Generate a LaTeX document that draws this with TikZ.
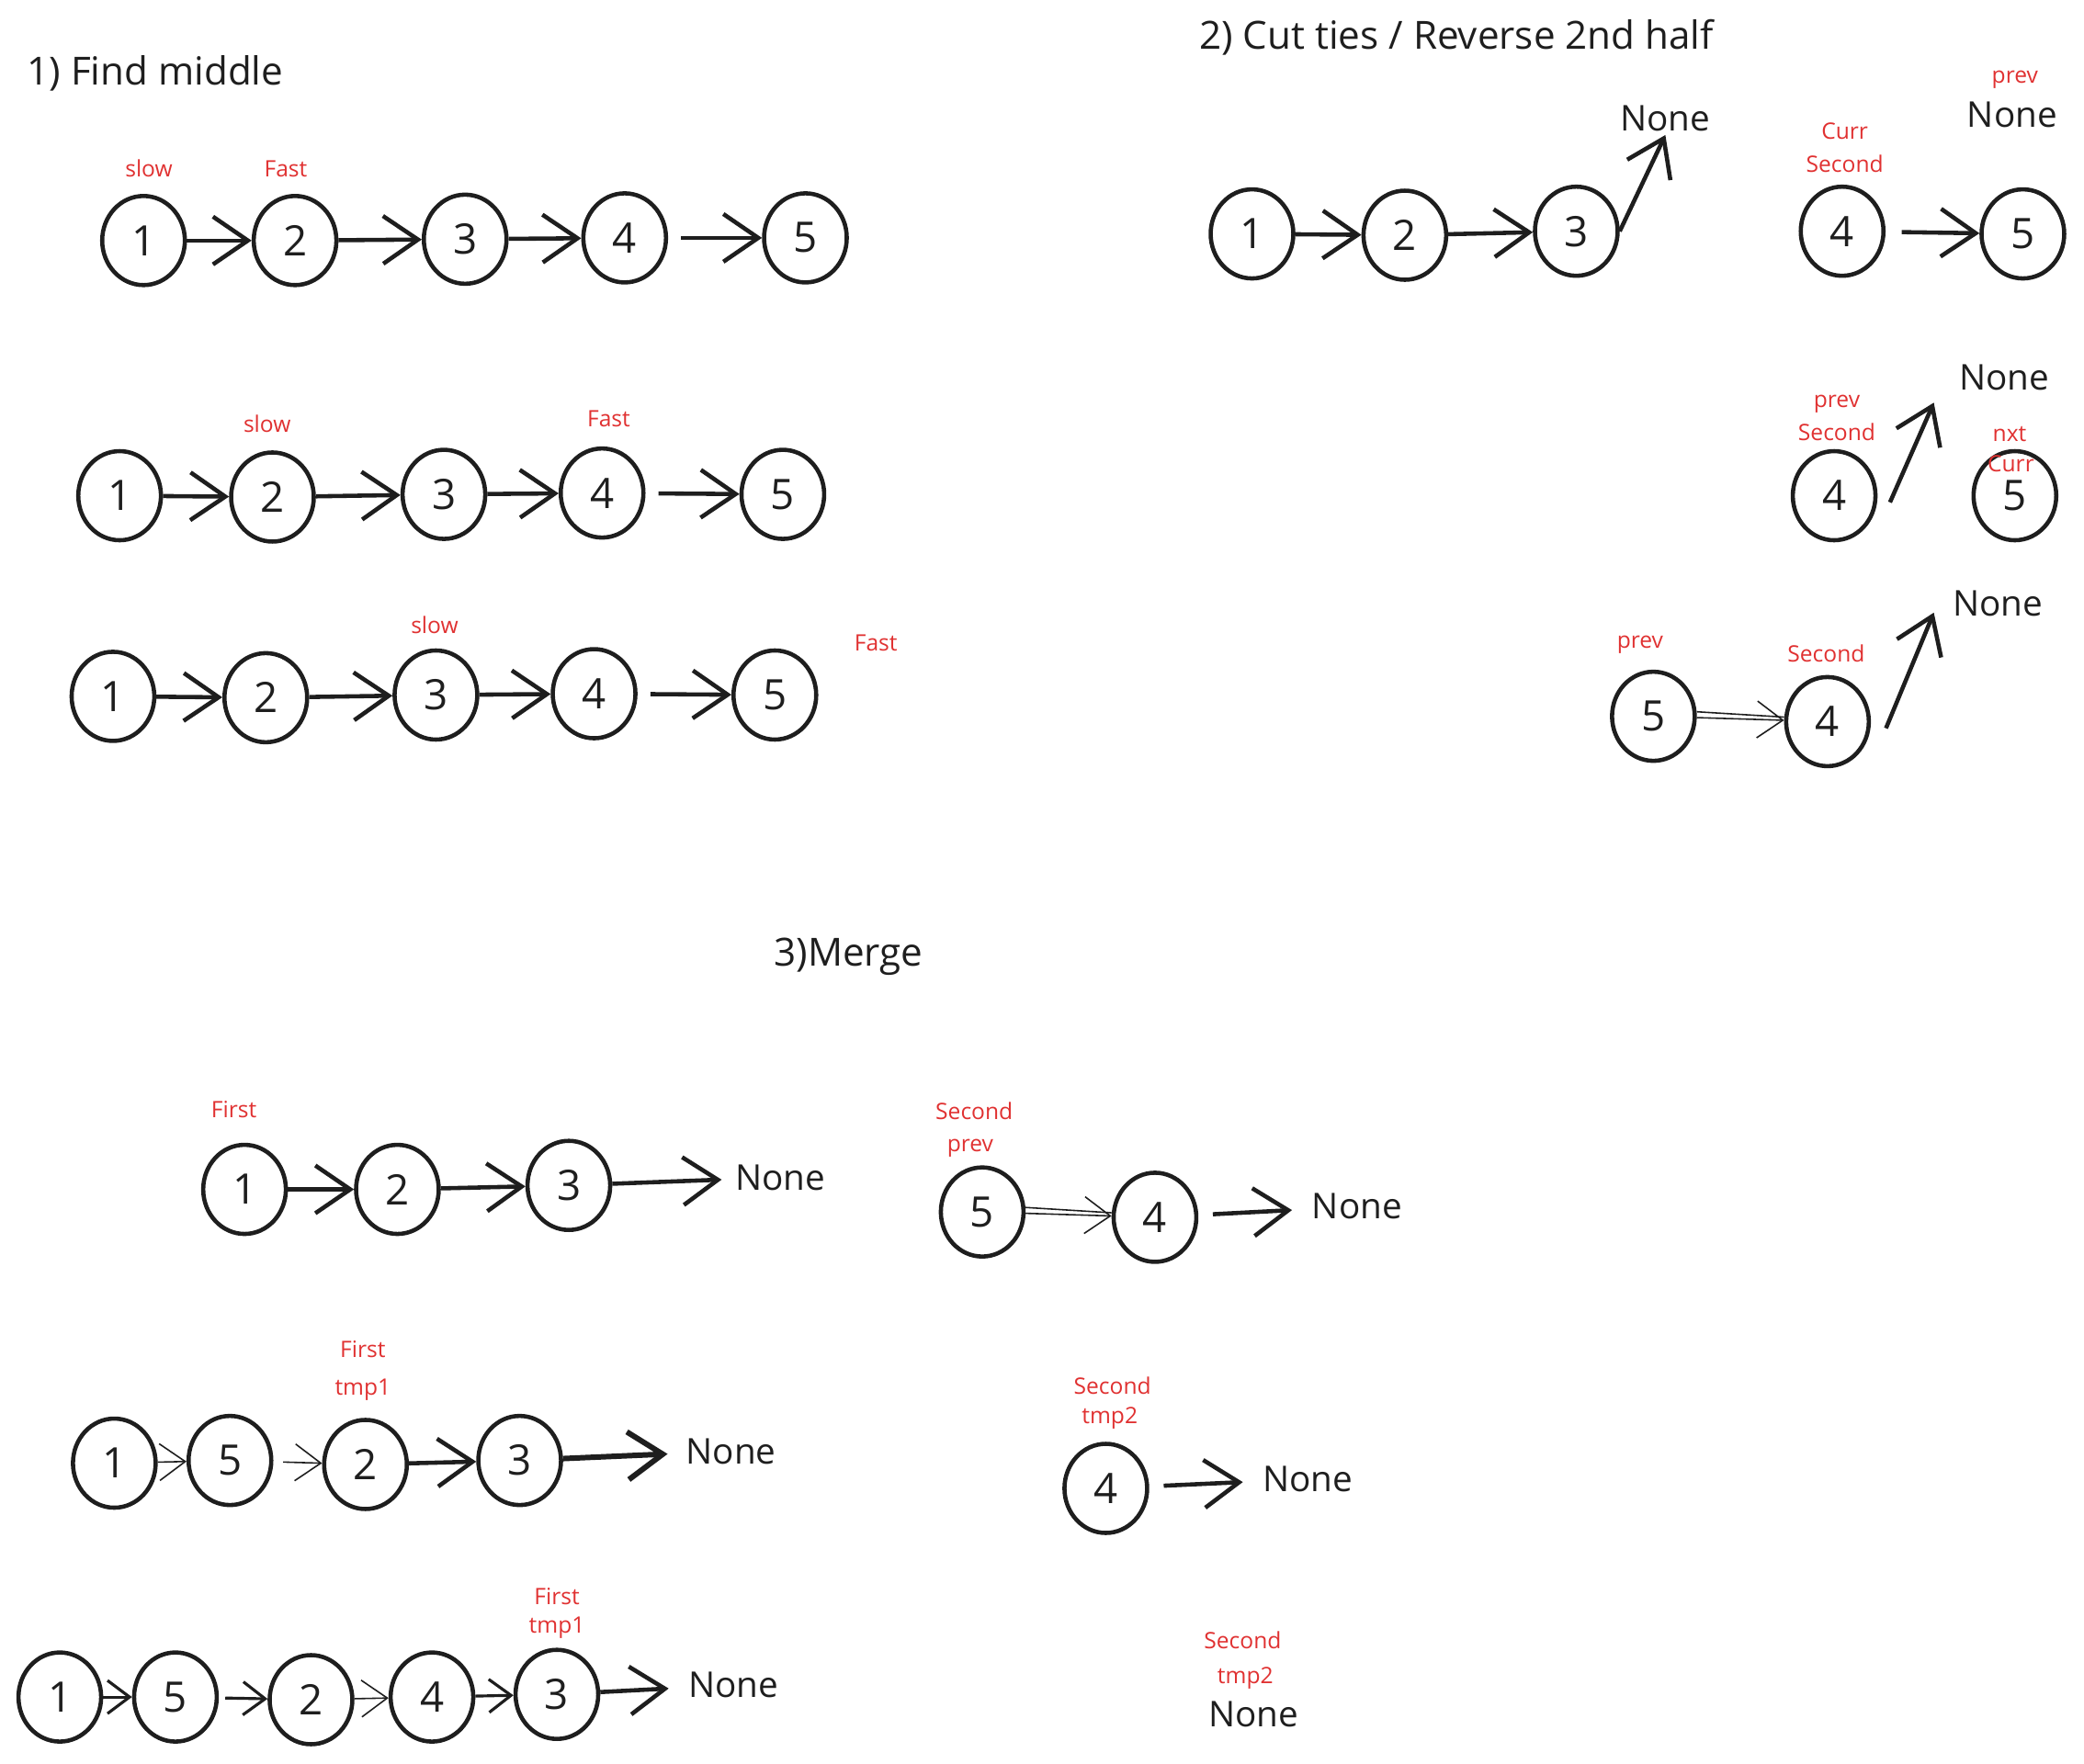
\documentclass[tikz,border=0pt]{standalone}
\usepackage{fontspec}
\setmainfont{Open Sans}
\usetikzlibrary{shapes.geometric,arrows.meta}
\definecolor{ink}{HTML}{1E1E1E}
\definecolor{redink}{HTML}{E03131}
\begin{document}
\begin{tikzpicture}[x=0.014464cm,y=-0.014464cm,
 nd/.style={draw=ink,ellipse,line width=1.3pt,minimum width=0.9cm,minimum height=0.97cm,inner sep=0pt,font=\fontsize{13}{15}\selectfont,text=ink},
 lbl/.style={text=redink,font=\fontsize{7}{8}\selectfont,inner sep=1pt},
 txt/.style={text=ink,font=\fontsize{11}{13}\selectfont,inner sep=1pt},
 hd/.style={text=ink,font=\fontsize{12}{14}\selectfont,inner sep=0pt,anchor=west},
 arr/.style={draw=ink,line width=1.3pt,-{Straight Barb[length=3.8mm,width=5.2mm]}},
 marr/.style={draw=ink,line width=0.9pt,-{Straight Barb[length=2.4mm,width=3.6mm]}},
 tarr/.style={draw=ink,line width=0.45pt,-{Straight Barb[length=2.8mm,width=4mm]}},
 tline/.style={draw=ink,line width=0.45pt},
]
\useasboundingbox (0,0) rectangle (1568,1327);

% ---------- 1) Find middle ----------
\node[hd] (h1) at (20,55) {1) Find middle};
\node[nd] (a1) at (108,181) {1};
\node[nd] (a2) at (222,181) {2};
\node[nd] (a3) at (350,180) {3};
\node[nd] (a4) at (470,179) {4};
\node[nd] (a5) at (606,179) {5};
\node[lbl] (a1l) at (112,127) {slow};
\node[lbl] (a2l) at (215,127) {Fast};
\draw[arr] (a1) -- (a2);
\draw[arr] (a2) -- (a3);
\draw[arr] (a3) -- (a4);
\draw[arr,shorten <=4pt] (a4) -- (a5);

\node[nd] (c1) at (90,373) {1};
\node[nd] (c2) at (205,374) {2};
\node[nd] (c3) at (334,372) {3};
\node[nd] (c4) at (453,371) {4};
\node[nd] (c5) at (589,372) {5};
\node[lbl] (c2l) at (201,319) {slow};
\node[lbl] (c4l) at (458,315) {Fast};
\draw[arr] (c1) -- (c2);
\draw[arr] (c2) -- (c3);
\draw[arr] (c3) -- (c4);
\draw[arr,shorten <=4pt] (c4) -- (c5);

\node[nd] (d1) at (85,524) {1};
\node[nd] (d2) at (200,525) {2};
\node[nd] (d3) at (328,523) {3};
\node[nd] (d4) at (447,522) {4};
\node[nd] (d5) at (583,523) {5};
\node[lbl] (d3l) at (327,470) {slow};
\node[lbl] (d6l) at (659,484) {Fast};
\draw[arr] (d1) -- (d2);
\draw[arr] (d2) -- (d3);
\draw[arr] (d3) -- (d4);
\draw[arr,shorten <=4pt] (d4) -- (d5);

% ---------- 2) Cut ties / Reverse ----------
\node[hd] (h2) at (902,28) {2) Cut ties / Reverse 2nd half};
\node[nd] (b1) at (942,176) {1};
\node[nd] (b2) at (1057,177) {2};
\node[nd] (b3) at (1186,174) {3};
\node[nd] (b4) at (1386,174) {4};
\node[nd] (b5) at (1522,176) {5};
\node[txt] (bn1) at (1253,89) {None};
\node[lbl] (bpl) at (1516,60) {prev};
\node[txt] (bn2) at (1514,86) {None};
\node[lbl] (bcl) at (1388,99) {Curr};
\node[lbl] (bsl) at (1388,123) {Second};
\draw[arr] (b1) -- (b2);
\draw[arr] (b2) -- (b3);
\draw[arr] (b3.east) -- (bn1.south);
\draw[arr,shorten <=5pt] (b4) -- (b5);

\node[nd] (e4) at (1380,373) {4};
\node[nd] (e5) at (1516,373) {5};
\node[txt] (en) at (1508,284) {None};
\node[lbl] (epl) at (1382,304) {prev};
\node[lbl] (esl) at (1382,325) {Second};
\node[lbl] (enl) at (1512,327) {nxt};
\node[lbl] (ecl) at (1513,349) {Curr};
\coordinate (eA) at (1422,378);
\coordinate (eB) at (1455,303);
\draw[arr] (eA) -- (eB);

\node[nd] (f5) at (1244,539) {5};
\node[nd] (f4) at (1375,543) {4};
\node[txt] (fn) at (1503,454) {None};
\node[lbl] (fpl) at (1234,485) {prev};
\node[lbl] (fsl) at (1374,492) {Second};
\draw[tarr] (f5) -- (f4);
\draw[tline] ([yshift=1.4pt]f5.east) -- ([yshift=1.4pt]f4.west);
\coordinate (fA) at (1419,548);
\coordinate (fB) at (1455,461);
\draw[arr] (fA) -- (fB);

% ---------- 3) Merge ----------
\node[hd] (h3) at (582,720) {3)Merge};

\node[nd] (g1) at (184,895) {1};
\node[nd] (g2) at (299,895) {2};
\node[nd] (g3) at (428,892) {3};
\node[txt] (gn) at (587,886) {None};
\node[lbl] (gfl) at (176,835) {First};
\draw[arr] (g1) -- (g2);
\draw[arr] (g2) -- (g3);
\draw[arr,shorten >=3pt] (g3) -- (gn);

\node[nd] (h5) at (739,912) {5};
\node[nd] (h4) at (869,916) {4};
\node[txt] (hn) at (1021,908) {None};
\node[lbl] (hsl) at (733,836) {Second};
\node[lbl] (hpl) at (730,864) {prev};
\draw[tarr] (h5) -- (h4);
\draw[tline] ([yshift=1.4pt]h5.east) -- ([yshift=1.4pt]h4.west);
\draw[arr,shorten <=4.5pt,shorten >=5pt] (h4) -- (hn);

\node[nd] (i1) at (86,1101) {1};
\node[nd] (i5) at (173,1099) {5};
\node[nd] (i2) at (275,1102) {2};
\node[nd] (i3) at (391,1099) {3};
\node[txt] (in) at (550,1092) {None};
\node[lbl] (ifl) at (273,1015) {First};
\node[lbl] (itl) at (273,1046) {tmp1};
\draw[tarr] (i1) -- (i5);
\draw[tarr,shorten <=3pt] (i5) -- (i2);
\draw[arr] (i2) -- (i3);
\draw[arr,line width=1.7pt,shorten >=4.5pt] (i3) -- (in);

\node[nd] (j4) at (832,1120) {4};
\node[txt] (jn) at (984,1113) {None};
\node[lbl] (jsl) at (837,1043) {Second};
\node[lbl] (jtl) at (835,1067) {tmp2};
\draw[arr,shorten <=4.5pt,shorten >=5pt] (j4) -- (jn);

\node[nd] (k1) at (45,1277) {1};
\node[nd] (k5) at (132,1277) {5};
\node[nd] (k2) at (234,1279) {2};
\node[nd] (k4) at (325,1277) {4};
\node[nd] (k3) at (419,1275) {3};
\node[txt] (kn) at (552,1268) {None};
\node[lbl] (kfl) at (419,1201) {First};
\node[lbl] (ktl) at (419,1225) {tmp1};
\draw[marr] (k1) -- (k5);
\draw[marr,shorten <=2pt] (k5) -- (k2);
\draw[tarr] (k2) -- (k4);
\draw[marr] (k4) -- (k3);
\draw[arr,shorten >=5pt] (k3) -- (kn);

\node[lbl] (lsl) at (935,1234) {Second};
\node[lbl] (ltl) at (937,1263) {tmp2};
\node[txt] (ln) at (943,1290) {None};
\end{tikzpicture}
\end{document}
